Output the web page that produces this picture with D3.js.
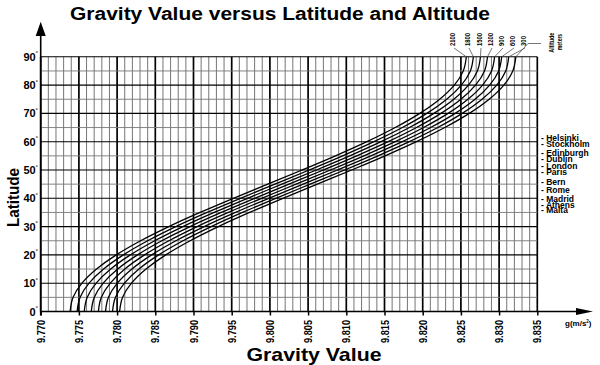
<!DOCTYPE html>
<html><head><meta charset="utf-8">
<script src="https://cdn.jsdelivr.net/npm/d3@7"></script>
<style>
html,body{margin:0;padding:0;background:#fff;}
text{font-family:"Liberation Sans",Arial,sans-serif;font-weight:bold;fill:#000;}
</style></head>
<body>
<svg id="c" width="600" height="365"></svg>
<script>
// ---------- DATA ----------
const latitudes = [0,5,10,15,20,25,30,35,40,45,50,55,60,65,70,75,80,85,90];
const altitudes = [0,300,600,900,1200,1500,1800,2100];
const g0    = [9.78033,9.78072,9.78188,9.78379,9.78637,9.78956,9.79325,9.79734,9.80170,9.80620,9.81070,9.81508,9.81918,9.82289,9.82610,9.82870,9.83062,9.83179,9.83219];
const g300  = [9.77940,9.77979,9.78096,9.78286,9.78544,9.78863,9.79232,9.79641,9.80077,9.80527,9.80978,9.81415,9.81825,9.82197,9.82517,9.82777,9.82969,9.83087,9.83126];
const g600  = [9.77848,9.77887,9.78003,9.78194,9.78452,9.78770,9.79140,9.79549,9.79985,9.80435,9.80885,9.81322,9.81733,9.82104,9.82425,9.82685,9.82876,9.82994,9.83034];
const g900  = [9.77755,9.77794,9.77911,9.78101,9.78359,9.78678,9.79047,9.79456,9.79892,9.80342,9.80793,9.81230,9.81640,9.82011,9.82332,9.82592,9.82784,9.82901,9.82941];
const g1200 = [9.77662,9.77702,9.77818,9.78008,9.78267,9.78585,9.78955,9.79364,9.79800,9.80250,9.80700,9.81137,9.81548,9.81919,9.82239,9.82500,9.82691,9.82809,9.82848];
const g1500 = [9.77570,9.77609,9.77726,9.77916,9.78174,9.78493,9.78862,9.79271,9.79707,9.80157,9.80608,9.81045,9.81455,9.81826,9.82147,9.82407,9.82599,9.82716,9.82756];
const g1800 = [9.77477,9.77516,9.77633,9.77823,9.78082,9.78400,9.78769,9.79178,9.79614,9.80065,9.80515,9.80952,9.81362,9.81734,9.82054,9.82314,9.82506,9.82624,9.82663];
const g2100 = [9.77385,9.77424,9.77540,9.77731,9.77989,9.78308,9.78677,9.79086,9.79522,9.79972,9.80422,9.80859,9.81270,9.81641,9.81962,9.82222,9.82414,9.82531,9.82571];
const series = [g0,g300,g600,g900,g1200,g1500,g1800,g2100];
const xTickValues = [9.770,9.775,9.780,9.785,9.790,9.795,9.800,9.805,9.810,9.815,9.820,9.825,9.830,9.835];
const yTickValues = [0,10,20,30,40,50,60,70,80,90];
const cities = ["Helsinki","Stockholm","Edinburgh","Dublin","London","Paris","Bern","Rome","Madrid","Athens","Malta"];
const cityLat = [61.2,59.2,55.9,53.8,51.4,49.3,45.9,43.0,39.9,37.5,35.9];

// ---------- LAYOUT ----------
const svg = d3.select("#c");
const x = d3.scaleLinear().domain([9.770, 9.835]).range([40.7, 537.3]);
const y = d3.scaleLinear().domain([0, 90]).range([311.5, 56.8]);
const altLabelX = {2100:452, 1800:467, 1500:479, 1200:490, 900:501, 600:512, 300:523};

// grid
const gGrid = svg.append("g");
const vLines = d3.range(0, 66).map(i => 9.770 + i*0.001);
gGrid.selectAll(".v").data(vLines).join("line")
  .attr("x1", d => x(d)).attr("x2", d => x(d))
  .attr("y1", y(0)).attr("y2", y(90))
  .attr("stroke", (d,i) => i%5===0 ? "#000" : "#666")
  .attr("stroke-width", (d,i) => i%5===0 ? 1.7 : 0.9);
const hLines = d3.range(0, 19).map(i => i*5);
gGrid.selectAll(".h").data(hLines).join("line")
  .attr("x1", x(9.770)).attr("x2", x(9.835))
  .attr("y1", d => y(d)).attr("y2", d => y(d))
  .attr("stroke", (d,i) => i%2===0 ? "#000" : "#777")
  .attr("stroke-width", (d,i) => i%2===0 ? 1.1 : 0.9);

// curves
const line = d3.line()
  .x(d => x(d[1])).y(d => y(d[0]))
  .curve(d3.curveMonotoneY);
svg.append("g").selectAll("path").data(series).join("path")
  .attr("d", s => line(latitudes.map((l,i) => [l, s[i]])))
  .attr("fill", "none").attr("stroke", "#000").attr("stroke-width", 1.3);

// x axis
const xAxis = d3.axisBottom(x).tickValues(xTickValues).tickFormat(d3.format(".3f")).tickSize(4).tickSizeOuter(0);
const gx = svg.append("g").attr("transform", `translate(0,${y(0)})`).call(xAxis);
gx.select(".domain").remove();
gx.selectAll(".tick line").attr("stroke", "#000").attr("stroke-width", 1.5);
gx.selectAll(".tick text")
  .attr("transform", "rotate(-90)")
  .attr("text-anchor", "end")
  .attr("x", -8.5).attr("y", 0).attr("dy", "0.35em")
  .attr("font-size", 10).attr("font-family", "Liberation Sans, Arial, sans-serif").attr("font-weight", "bold")
  .attr("textLength", 23).attr("lengthAdjust", "spacingAndGlyphs");
svg.append("line").attr("x1", x(9.770)).attr("x2", 578).attr("y1", y(0)).attr("y2", y(0))
  .attr("stroke", "#000").attr("stroke-width", 1.6);
svg.append("path").attr("d", `M593,${y(0)} L576,${y(0)-3.6} L576,${y(0)+3.6} Z`).attr("fill", "#000");

// y axis
const yAxis = d3.axisLeft(y).tickValues(yTickValues).tickSize(0).tickPadding(5);
const gy = svg.append("g").attr("transform", `translate(${x(9.770)},0)`).call(yAxis);
gy.select(".domain").remove();
gy.selectAll(".tick text").attr("font-size", 11).attr("font-family", "Liberation Sans, Arial, sans-serif").attr("font-weight", "bold");
gy.selectAll(".tick").append("text").text("°").attr("x", -4).attr("y", -2)
  .attr("font-size", 6).attr("text-anchor", "middle").attr("fill", "#000");
svg.append("line").attr("x1", x(9.770)).attr("x2", x(9.770)).attr("y1", 34).attr("y2", y(0)+4)
  .attr("stroke", "#000").attr("stroke-width", 1.6);
svg.append("path").attr("d", `M${x(9.770)},21.7 L${x(9.770)-5},36 L${x(9.770)+5},36 Z`).attr("fill", "#000");

// titles
svg.append("text").attr("x", 280).attr("y", 20).attr("text-anchor", "middle")
  .attr("font-size", 18).attr("textLength", 420).attr("lengthAdjust", "spacingAndGlyphs")
  .text("Gravity Value versus Latitude and Altitude");
svg.append("text").attr("x", 314).attr("y", 361).attr("text-anchor", "middle")
  .attr("font-size", 18.5).attr("textLength", 135).attr("lengthAdjust", "spacingAndGlyphs")
  .text("Gravity Value");
svg.append("text").attr("transform", "translate(18.5,197.5) rotate(-90)").attr("text-anchor", "middle")
  .attr("font-size", 16).attr("textLength", 59).attr("lengthAdjust", "spacingAndGlyphs")
  .text("Latitude");
const gu = svg.append("text").attr("x", 565).attr("y", 326).attr("font-size", 8);
gu.append("tspan").text("g(m/s");
gu.append("tspan").text("2").attr("font-size", 4.5).attr("dy", -3.5);
gu.append("tspan").text(")").attr("dy", 3.5);

// altitude labels + leaders
altitudes.forEach((a, k) => {
  const topX = x(series[k][series[k].length-1]);
  if (a === 0) {
    svg.append("polyline").attr("points", `${topX},${y(90)} 528,43.5 541,43.5`)
      .attr("fill", "none").attr("stroke", "#555").attr("stroke-width", 0.8);
    return;
  }
  const lx = altLabelX[a];
  svg.append("line").attr("x1", lx+2).attr("y1", 48).attr("x2", topX).attr("y2", y(90))
    .attr("stroke", "#555").attr("stroke-width", 0.8);
  svg.append("text").attr("transform", `translate(${lx+2.5},46) rotate(-90)`)
    .attr("font-size", 6.5).attr("textLength", String(a).length===4 ? 13 : 10).attr("lengthAdjust", "spacingAndGlyphs")
    .text(a);
});
svg.append("text").attr("transform", "translate(553.5,52.7) rotate(-90)")
  .attr("font-size", 7).attr("textLength", 20).attr("lengthAdjust", "spacingAndGlyphs").text("Altitude");
svg.append("text").attr("transform", "translate(561.5,50) rotate(-90)")
  .attr("font-size", 7).attr("textLength", 16).attr("lengthAdjust", "spacingAndGlyphs").text("meters");

// cities
svg.append("g").selectAll("text").data(cities).join("text")
  .attr("x", 541).attr("y", (d,i) => y(cityLat[i])).attr("dy", "0.35em")
  .attr("font-size", 8.5)
  .text(d => "- " + d);
</script>
</body></html>
